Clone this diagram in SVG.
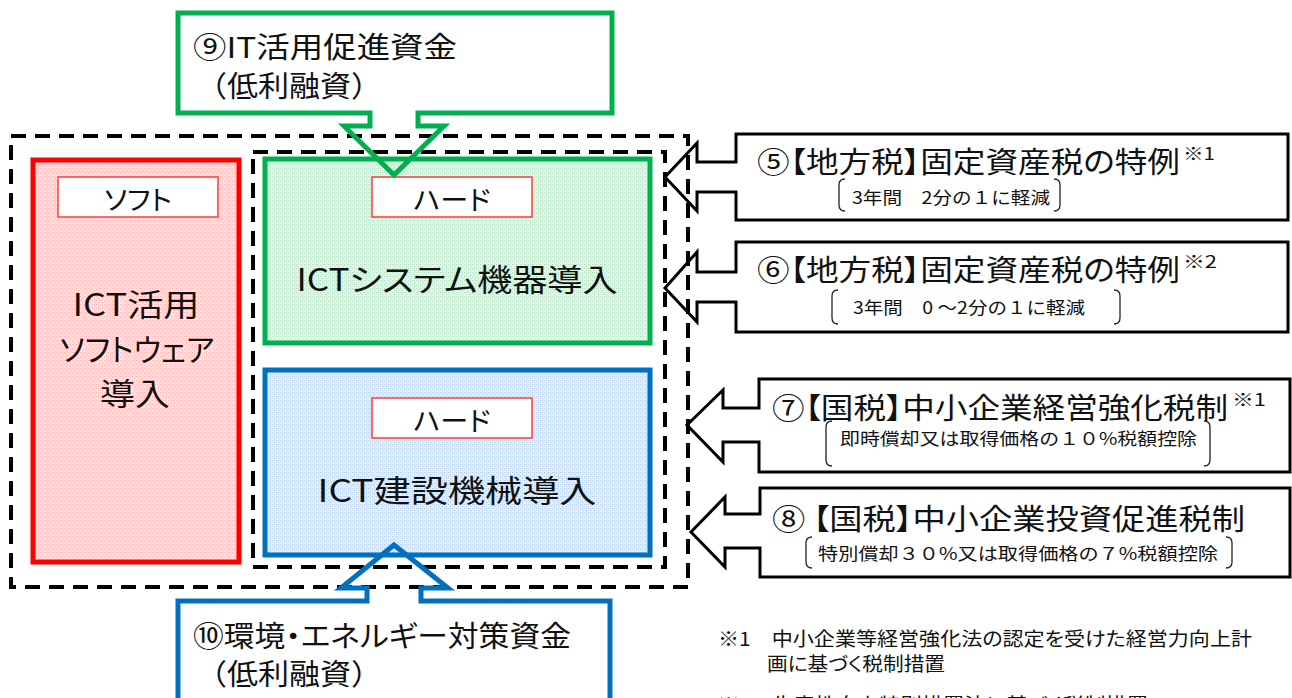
<svg xmlns="http://www.w3.org/2000/svg" width="1292" height="698" viewBox="0 0 1292 698">
<defs>
<pattern id="pPink" width="4" height="4" patternUnits="userSpaceOnUse"><rect width="4" height="4" fill="#ffe6e6"/><rect x="0" y="0" width="1" height="1" fill="#ffb3b3"/><rect x="2" y="2" width="1" height="1" fill="#ffb3b3"/><rect x="2" y="0" width="1" height="1" fill="#ffcccc"/></pattern>
<pattern id="pGreen" width="4" height="4" patternUnits="userSpaceOnUse"><rect width="4" height="4" fill="#e4f4e9"/><rect x="0" y="0" width="1" height="1" fill="#aedbbd"/><rect x="2" y="2" width="1" height="1" fill="#aedbbd"/><rect x="2" y="0" width="1" height="1" fill="#c8e8d2"/></pattern>
<pattern id="pBlue" width="4" height="4" patternUnits="userSpaceOnUse"><rect width="4" height="4" fill="#e5eef8"/><rect x="0" y="0" width="1" height="1" fill="#aecbe8"/><rect x="2" y="2" width="1" height="1" fill="#aecbe8"/><rect x="2" y="0" width="1" height="1" fill="#c9dcf0"/></pattern>
</defs>
<style>
text{font-family:"Noto Sans CJK JP","Noto Sans",sans-serif;fill:#111;dominant-baseline:central;font-feature-settings:"palt" 1}
.big{font-size:31px}
.title{font-size:29px}
.paren{font-size:29px;font-feature-settings:normal}
.sup{font-size:17px}
.sub{font-size:17px;font-feature-settings:normal}
.lab{font-size:27px}
.note{font-size:19px}
.dash{fill:none;stroke:#000;stroke-width:4;stroke-dasharray:15 9}
.lbox{fill:#fff;stroke:#ff3b3b;stroke-width:1.5}
.co{fill:none;stroke:#000;stroke-width:3;stroke-linejoin:miter}
.br{fill:none;stroke:#222;stroke-width:1.3}
</style>

<g id="containers">
<rect class="dash" x="11" y="136" width="677" height="451"/>
<rect class="dash" x="253" y="152" width="412" height="415"/>
</g>

<g id="soft">
<rect x="33" y="160" width="206" height="402" fill="url(#pPink)" stroke="#ff0000" stroke-width="5"/>
<rect class="lbox" x="58" y="177" width="160" height="40"/>
<text class="lab" x="138" y="198" text-anchor="middle" textLength="68" lengthAdjust="spacingAndGlyphs">ソフト</text>
<text class="big" x="136" y="302" text-anchor="middle" textLength="127" lengthAdjust="spacingAndGlyphs">ICT活用</text>
<text class="big" x="137" y="347" text-anchor="middle" textLength="155" lengthAdjust="spacingAndGlyphs">ソフトウェア</text>
<text class="big" x="135" y="391" text-anchor="middle" textLength="70" lengthAdjust="spacingAndGlyphs">導入</text>
</g>

<g id="hard-system">
<rect x="265" y="159" width="385" height="184" fill="url(#pGreen)" stroke="#00b050" stroke-width="5"/>
<rect class="lbox" x="372" y="177" width="160" height="40"/>
<text class="lab" x="452" y="198" text-anchor="middle" textLength="77" lengthAdjust="spacingAndGlyphs">ハード</text>
<text class="big" x="457" y="277" text-anchor="middle" textLength="321" lengthAdjust="spacingAndGlyphs">ICTシステム機器導入</text>
</g>

<g id="hard-machine">
<rect x="265" y="370" width="385" height="185" fill="url(#pBlue)" stroke="#0070c0" stroke-width="5"/>
<rect class="lbox" x="372" y="398" width="160" height="40"/>
<text class="lab" x="452" y="419" text-anchor="middle" textLength="77" lengthAdjust="spacingAndGlyphs">ハード</text>
<text class="big" x="457" y="488" text-anchor="middle" textLength="279" lengthAdjust="spacingAndGlyphs">ICT建設機械導入</text>
</g>

<g id="connectors">
<path d="M178,13 H612 V113 H418 V126 H444 L394,175 L344,126 H370 V113 H178 Z" fill="none" stroke="#00b050" stroke-width="5"/>
<path d="M178,720 V601 H367 V588 H341 L394,545 L448,588 H421 V601 H610 V720" fill="none" stroke="#0070c0" stroke-width="5"/>
<path class="co" d="M736,134 H1288 V220 H736 V192 H697 V211 L665,177 L697,143 V162 H736 Z"/>
<path class="co" d="M736,242 H1288 V332 H736 V302 H697 V322 L665,288 L697,252 V272 H736 Z"/>
<path class="co" d="M759,379 H1290 V472 H759 V442 H723 V462 L687,425 L723,390 V408 H759 Z"/>
<path class="co" d="M760,488 H1290 V577 H760 V548 H725 V567 L691,532 L725,497 V514 H760 Z"/>
</g>

<g id="fund-it">
<text class="title" x="193" y="45" textLength="264" lengthAdjust="spacingAndGlyphs">⑨IT活用促進資金</text>
<text class="paren" x="196" y="84" textLength="186" lengthAdjust="spacingAndGlyphs">（低利融資）</text>
</g>

<g id="fund-env">
<text class="title" x="193" y="634" textLength="378" lengthAdjust="spacingAndGlyphs">⑩環境・エネルギー対策資金</text>
<text class="paren" x="196" y="672" textLength="186" lengthAdjust="spacingAndGlyphs">（低利融資）</text>
</g>

<g id="tax5">
<text class="title" x="757" y="160" textLength="423" lengthAdjust="spacingAndGlyphs">⑤【地方税】固定資産税の特例</text>
<text class="sup" x="1183" y="152" textLength="32" lengthAdjust="spacingAndGlyphs">※1</text>
<path class="br" d="M845,179 Q839,179 839,185 V205 Q839,211 845,211"/>
<path class="br" d="M1054,179 Q1060,179 1060,185 V205 Q1060,211 1054,211"/>
<text class="sub" x="852" y="196" textLength="198" lengthAdjust="spacingAndGlyphs">3年間　2分の１に軽減</text>
</g>

<g id="tax6">
<text class="title" x="757" y="268" textLength="423" lengthAdjust="spacingAndGlyphs">⑥【地方税】固定資産税の特例</text>
<text class="sup" x="1183" y="260" textLength="34" lengthAdjust="spacingAndGlyphs">※2</text>
<path class="br" d="M838,290 Q832,290 832,296 V318 Q832,324 838,324"/>
<path class="br" d="M1114,290 Q1120,290 1120,296 V318 Q1120,324 1114,324"/>
<text class="sub" x="853" y="306" textLength="232" lengthAdjust="spacingAndGlyphs">3年間　0 ～2分の１に軽減</text>
</g>

<g id="tax7">
<text class="title" x="772" y="406" textLength="456" lengthAdjust="spacingAndGlyphs">⑦【国税】中小企業経営強化税制</text>
<text class="sup" x="1232" y="398" textLength="34" lengthAdjust="spacingAndGlyphs">※1</text>
<path class="br" d="M832,421 Q826,421 826,427 V460 Q826,466 832,466"/>
<path class="br" d="M1204,421 Q1210,421 1210,427 V460 Q1210,466 1204,466"/>
<text class="sub" x="840" y="437" textLength="357" lengthAdjust="spacingAndGlyphs">即時償却又は取得価格の１０%税額控除</text>
</g>

<g id="tax8">
<text class="title" x="772" y="517" textLength="473" lengthAdjust="spacingAndGlyphs">⑧ 【国税】中小企業投資促進税制</text>
<path class="br" d="M812,537 Q806,537 806,543 V562 Q806,568 812,568"/>
<path class="br" d="M1226,537 Q1232,537 1232,543 V562 Q1232,568 1226,568"/>
<text class="sub" x="818" y="552" textLength="400" lengthAdjust="spacingAndGlyphs">特別償却３０%又は取得価格の７%税額控除</text>
</g>

<g id="notes">
<text class="note" x="718" y="637" textLength="534" lengthAdjust="spacingAndGlyphs">※1　中小企業等経営強化法の認定を受けた経営力向上計</text>
<text class="note" x="767" y="662" textLength="178" lengthAdjust="spacingAndGlyphs">画に基づく税制措置</text>
<text class="note" x="718" y="703" textLength="430" lengthAdjust="spacingAndGlyphs">※2　生産性向上特別措置法に基づく税制措置</text>
</g>
</svg>
